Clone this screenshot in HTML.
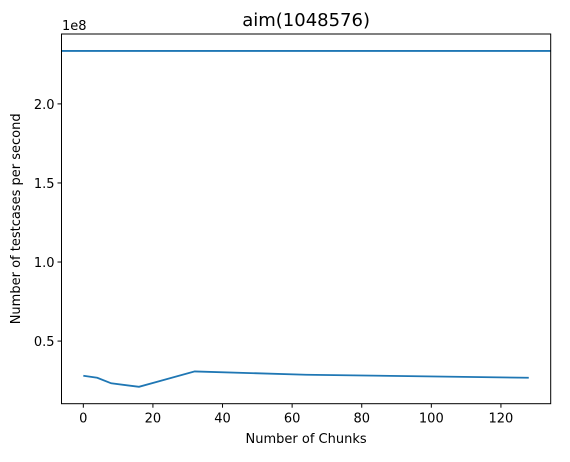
<!DOCTYPE html>
<html><head><meta charset="utf-8"><style>
body{margin:0;background:#fff;}
text{font-family:"DejaVu Sans","Liberation Sans",sans-serif;fill:#000;}
</style></head><body>
<svg id="chart" width="570" height="457" xmlns="http://www.w3.org/2000/svg"></svg>
<script>
const xValues=[0,4,8,16,32,64,128];
const yValues=[0.281e8,0.268e8,0.233e8,0.211e8,0.308e8,0.287e8,0.268e8];
const hLineValue=2.335e8;
const xTicks=[0,20,40,60,80,100,120];
const yTicks=[0.5e8,1.0e8,1.5e8,2.0e8];
const yTickLabels=["0.5","1.0","1.5","2.0"];
const L=61.5,R=550.7,T=34,B=403.7;
const xMin=-6.27,xMax=134.3,yMin=0.104e8,yMax=2.442e8;
const sx=v=>L+(v-xMin)/(xMax-xMin)*(R-L);
const sy=v=>B-(v-yMin)/(yMax-yMin)*(B-T);
const svg=document.getElementById('chart');
const NS="http://www.w3.org/2000/svg";
function mk(t,a,txt){const e=document.createElementNS(NS,t);for(const k in a)e.setAttribute(k,a[k]);if(txt!==undefined)e.textContent=txt;svg.appendChild(e);return e;}
let e;
e=mk('text',{x:(L+R)/2,y:26,'text-anchor':'middle','font-size':'18'},'aim(1048576)');


e=mk('line',{x1:L,x2:R,y1:sy(hLineValue),y2:sy(hLineValue),stroke:'#1f77b4','stroke-width':1.8});


e=mk('polyline',{points:xValues.map((x,i)=>sx(x)+','+sy(yValues[i])).join(' '),fill:'none',stroke:'#1f77b4','stroke-width':1.8});


e=mk('rect',{x:L,y:T,width:R-L,height:B-T,fill:'none',stroke:'#000','stroke-width':1});


xTicks.forEach(v=>{
 e=mk('line',{x1:sx(v),x2:sx(v),y1:B,y2:B+4,stroke:'#000'});
 
 
 e=mk('text',{x:sx(v),y:B+19,'text-anchor':'middle','font-size':'13'},String(v));
 
 
});
yTicks.forEach((v,i)=>{
 e=mk('line',{x1:L-4,x2:L,y1:sy(v),y2:sy(v),stroke:'#000'});
 
 
 e=mk('text',{x:L-7,y:sy(v)+5,'text-anchor':'end','font-size':'13'},yTickLabels[i]);
 
 
});
e=mk('text',{x:62,y:30,'font-size':'13'},'1e8');


e=mk('text',{x:(L+R)/2,y:443,'text-anchor':'middle','font-size':'13'},'Number of Chunks');


e=mk('text',{x:0,y:0,'text-anchor':'middle','font-size':'13',transform:'translate(20,'+((T+B)/2)+') rotate(-90)'},'Number of testcases per second');


</script>
</body></html>
